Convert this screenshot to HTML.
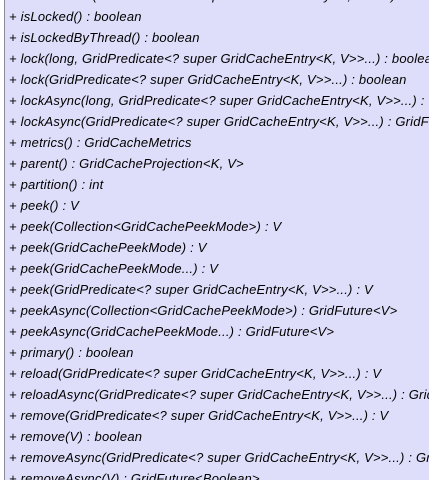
<!DOCTYPE html>
<html><head><style>
html,body{margin:0;padding:0;width:429px;height:480px;overflow:hidden;background:#dedefa}
#w{position:absolute;left:0;top:0;width:4px;height:480px;background:#fff}
#b{position:absolute;left:4px;top:0;width:1px;height:480px;background:#8a8a9a}
#box{position:absolute;left:4px;top:-8px;width:425px;height:488px;overflow:hidden}
.r{position:absolute;left:5px;white-space:nowrap;font:italic 13px "Liberation Sans",sans-serif;letter-spacing:0.2px;color:#000;line-height:14px}
</style></head><body><div id="w"></div><div id="b"></div><div id="box">
<div class="r" style="top:-3px">+ invalidateAll(GridPredicate&lt;? super GridCacheEntry&lt;K, V&gt;&gt;...) : void</div>
<div class="r" style="top:18px">+ isLocked() : boolean</div>
<div class="r" style="top:39px">+ isLockedByThread() : boolean</div>
<div class="r" style="top:60px">+ lock(long, GridPredicate&lt;? super GridCacheEntry&lt;K, V&gt;&gt;...) : boolean</div>
<div class="r" style="top:81px">+ lock(GridPredicate&lt;? super GridCacheEntry&lt;K, V&gt;&gt;...) : boolean</div>
<div class="r" style="top:102px">+ lockAsync(long, GridPredicate&lt;? super GridCacheEntry&lt;K, V&gt;&gt;...) : GridFuture</div>
<div class="r" style="top:123px">+ lockAsync(GridPredicate&lt;? super GridCacheEntry&lt;K, V&gt;&gt;...) : GridFuture</div>
<div class="r" style="top:144px">+ metrics() : GridCacheMetrics</div>
<div class="r" style="top:165px">+ parent() : GridCacheProjection&lt;K, V&gt;</div>
<div class="r" style="top:186px">+ partition() : int</div>
<div class="r" style="top:207px">+ peek() : V</div>
<div class="r" style="top:228px">+ peek(Collection&lt;GridCachePeekMode&gt;) : V</div>
<div class="r" style="top:249px">+ peek(GridCachePeekMode) : V</div>
<div class="r" style="top:270px">+ peek(GridCachePeekMode...) : V</div>
<div class="r" style="top:291px">+ peek(GridPredicate&lt;? super GridCacheEntry&lt;K, V&gt;&gt;...) : V</div>
<div class="r" style="top:312px">+ peekAsync(Collection&lt;GridCachePeekMode&gt;) : GridFuture&lt;V&gt;</div>
<div class="r" style="top:333px">+ peekAsync(GridCachePeekMode...) : GridFuture&lt;V&gt;</div>
<div class="r" style="top:354px">+ primary() : boolean</div>
<div class="r" style="top:375px">+ reload(GridPredicate&lt;? super GridCacheEntry&lt;K, V&gt;&gt;...) : V</div>
<div class="r" style="top:396px">+ reloadAsync(GridPredicate&lt;? super GridCacheEntry&lt;K, V&gt;&gt;...) : GridFuture</div>
<div class="r" style="top:417px">+ remove(GridPredicate&lt;? super GridCacheEntry&lt;K, V&gt;&gt;...) : V</div>
<div class="r" style="top:438px">+ remove(V) : boolean</div>
<div class="r" style="top:459px">+ removeAsync(GridPredicate&lt;? super GridCacheEntry&lt;K, V&gt;&gt;...) : GridFuture</div>
<div class="r" style="top:480px">+ removeAsync(V) : GridFuture&lt;Boolean&gt;</div>
</div></body></html>
